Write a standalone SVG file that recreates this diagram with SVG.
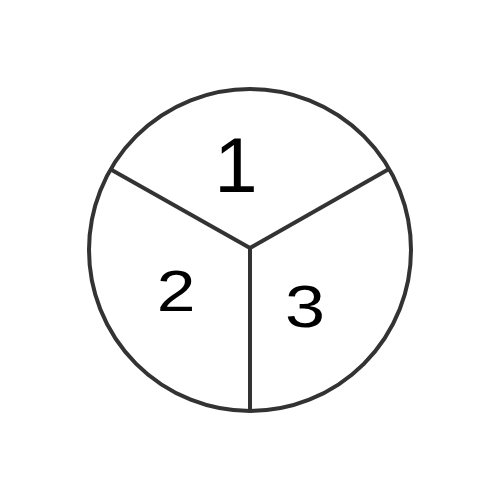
<svg xmlns="http://www.w3.org/2000/svg" width="500" height="500" viewBox="0 0 500 500">
<style>
.ln{stroke:#333;stroke-width:4;fill:none;stroke-linecap:butt}
.num{font-family:"Liberation Sans",Arial,sans-serif;fill:#000;text-anchor:middle;font-weight:normal}
</style>
<rect width="500" height="500" fill="#fff"/>
<g id="circle"><circle class="ln" cx="250" cy="250" r="161"/></g>
<g id="connectors">
<line class="ln" x1="250" y1="248" x2="110" y2="169"/>
<line class="ln" x1="250" y1="248" x2="389" y2="169"/>
<line class="ln" x1="250" y1="248" x2="250" y2="411"/>
</g>
<g id="sector1"><text class="num" x="236" y="192" font-size="78">1</text></g>
<g id="sector2"><text class="num" transform="translate(176,311) scale(1.2,1)" font-size="58">2</text></g>
<g id="sector3"><text class="num" transform="translate(305,327) scale(1.2,1)" font-size="60">3</text></g>
</svg>
